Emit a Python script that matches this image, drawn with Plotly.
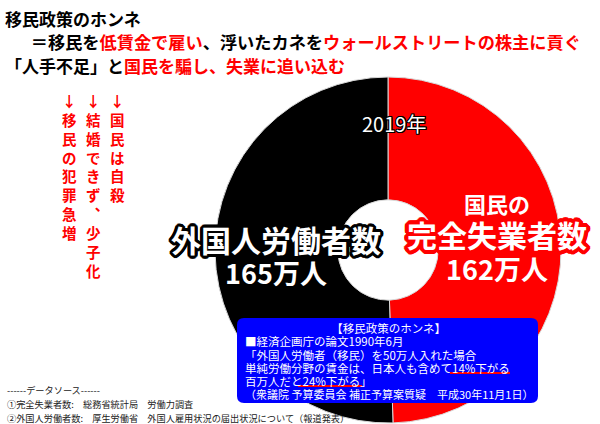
import plotly.graph_objects as go

W, H = 600, 424
FONT = "Noto Sans CJK JP"

# ---------------- data ----------------
# slice order: 完全失業者数 (right half), 外国人労働者数 (left half)
labels = ["完全失業者数", "外国人労働者数"]
values = [162, 165]          # 万人 (2019年)
slice_colors = ["#ff0000", "#000000"]
value_labels = ["162万人", "165万人"]
year_label = "2019年"

title_line1 = [("移民政策のホンネ", "#000")]
title_line2 = [("\u3000\u2002＝移民を", "#000"), ("低賃金で雇い", "#ff0000"), ("、浮いたカネを", "#000"),
               ("ウォールストリートの株主に貢ぐ", "#ff0000")]
title_line3 = [("「人手不足」と", "#000"), ("国民を騙し、失業に追い込む", "#ff0000")]

side_columns = ["↓国民は自殺", "↓結婚できず︑少子化", "↓移民の犯罪急増"]

box_title = "【移民政策のホンネ】"
box_lines = ["■経済企画庁の論文1990年6月",
             "「外国人労働者（移民）を50万人入れた場合",
             "単純労働分野の賃金は、日本人も含めて14%下がる",
             "百万人だと24%下がる」",
             "（衆議院 予算委員会 補正予算案質疑　平成30年11月1日）"]

source_lines = ["------データソース------",
                "①完全失業者数:　総務省統計局　労働力調査",
                "②外国人労働者数:　厚生労働省　外国人雇用状況の届出状況について（報道発表）"]


def px(x):
    return x / W


def py(y):
    return 1 - y / H


def outline(color, r):
    offs = []
    for dx in range(-r, r + 1):
        for dy in range(-r, r + 1):
            if (dx or dy) and dx * dx + dy * dy <= r * r + 1:
                offs.append(f"{dx}px {dy}px 0 {color}")
    return ", ".join(offs)


def span(text, size, color=None):
    st = f"font-size:{size}px"
    if color:
        st += f";color:{color}"
    return f"<span style='{st}'>{text}</span>"


def colored(parts, size):
    return "".join(span(t, size, c) for t, c in parts)


annotations = []


def ann(text, x, y, size, color="#000", xanchor="left", yanchor="middle", weight="normal",
        shadow="none", align="left"):
    annotations.append(dict(text=text, x=px(x), y=py(y), xref="paper", yref="paper",
                            xanchor=xanchor, yanchor=yanchor, showarrow=False, align=align,
                            font=dict(family=FONT, size=size, color=color, weight=weight, shadow=shadow)))


fig = go.Figure()

# donut
cx, cy, R = 388, 250, 173
fig.add_trace(go.Pie(
    labels=labels, values=values, sort=False, direction="clockwise", rotation=0,
    hole=0.29, marker=dict(colors=slice_colors, line=dict(color="#d8d8d8", width=1)),
    textinfo="none", hoverinfo="skip", showlegend=False,
    domain=dict(x=[px(cx - R), px(cx + R)], y=[py(cy + R), py(cy - R)]),
))

# title block (3 lines, 23.4 px apart)
title_text = "<br>".join([colored(title_line1, 17), colored(title_line2, 17.2), colored(title_line3, 17)])
ann(title_text, 3, 42, 18, weight="bold")

# vertical red columns (one character per line)
col_x = [117, 93, 69]
for text, x in zip(side_columns, col_x):
    ann("<br>".join(text), x, 88, 14.5, color="#ff0000", xanchor="center", yanchor="top",
        weight="bold", align="center")

# donut labels
ann(year_label, 394, 123, 20, color="#fff", xanchor="center", shadow=outline("#000", 1))
ann(span(labels[1], 30) + "<br>" + span(value_labels[1], 27), 276, 254, 24.6,
    color="#fff", xanchor="center", weight="bold", shadow=outline("#000", 3), align="center")
ann(span("国民の", 22) + "<br>" + span(labels[0], 30) + "<br>" + span(value_labels[0], 27), 497, 237, 25.8,
    color="#fff", xanchor="center", weight="bold", shadow=outline("#ff0000", 4), align="center")

# blue box
bx0, by0, bx1, by1, r = 237, 318, 538, 403, 7
path = (f"M {px(bx0 + r)} {py(by0)} L {px(bx1 - r)} {py(by0)} Q {px(bx1)} {py(by0)} {px(bx1)} {py(by0 + r)} "
        f"L {px(bx1)} {py(by1 - r)} Q {px(bx1)} {py(by1)} {px(bx1 - r)} {py(by1)} "
        f"L {px(bx0 + r)} {py(by1)} Q {px(bx0)} {py(by1)} {px(bx0)} {py(by1 - r)} "
        f"L {px(bx0)} {py(by0 + r)} Q {px(bx0)} {py(by0)} {px(bx0 + r)} {py(by0)} Z")
shapes = [dict(type="path", path=path, xref="paper", yref="paper", fillcolor="#0000ff",
               line=dict(width=0), layer="above")]

box_rows = [span("\u3000" * 7 + "\u2002" + box_title, 11.5)]
box_rows += [span(line, 11.5 if i < 3 else 11.5) for i, line in enumerate(box_lines[:4])]
box_rows += [span(box_lines[4], 11)]
ann("<br>".join(box_rows), 243, 360.5, 10.23, color="#fff")

# red underlines
for x0, x1, y in [(450, 510, 373), (298, 362, 386)]:
    shapes.append(dict(type="line", xref="paper", yref="paper", x0=px(x0), x1=px(x1), y0=py(y), y1=py(y),
                       line=dict(color="#ff0000", width=2), layer="above"))

# data sources
for i, line in enumerate(source_lines):
    ann(line, 5, 390 + i * 14, 9.2, color="#222")

fig.update_layout(width=W, height=H, autosize=False, margin=dict(l=0, r=0, t=0, b=0),
                  paper_bgcolor="#fff", plot_bgcolor="#fff",
                  annotations=annotations, shapes=shapes)

fig.write_html("out.html", config={"displayModeBar": False},
               post_script="document.body.style.margin='0';document.body.style.overflow='hidden';")
